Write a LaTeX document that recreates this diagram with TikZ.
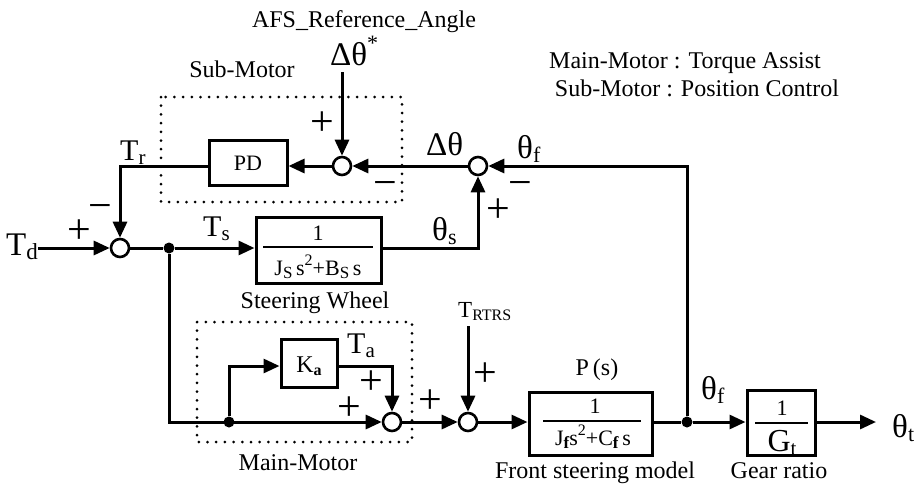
\documentclass[tikz,border=0pt]{standalone}
\usepackage{fontspec}
\setmainfont{Liberation Serif}
\usetikzlibrary{arrows.meta,calc}
\newcommand\fsz[1]{\fontsize{#1}{#1}\selectfont}
\newcommand\sbs[2]{\raisebox{-0.15em}{\fontsize{#1}{#1}\selectfont #2}}
\newcommand\sps[2]{\raisebox{0.45em}{\fontsize{#1}{#1}\selectfont #2}}
\begin{document}
\begin{tikzpicture}[x=1pt,y=-1pt,
  sumj/.style={circle,draw,line width=2.6pt,minimum size=18pt,inner sep=0pt,fill=white},
  dotj/.style={circle,fill,minimum size=11pt,inner sep=0pt},
  blk/.style={draw,line width=3pt,rectangle,inner sep=0pt},
  wire/.style={line width=3pt},
  sig/.style={line width=3pt,-{Triangle[length=16pt,width=14pt]}},
  dotbox/.style={line width=3pt,line cap=round,dash pattern=on 0pt off 8.7pt},
  fracl/.style={line width=2.6pt},
  txt/.style={inner sep=0pt,anchor=base,font=\fsz{24}},
  sym/.style={inner sep=0pt,anchor=base west,font=\fsz{33}},
  tsym/.style={inner sep=0pt,anchor=base west,font=\fsz{30}},
  sgn/.style={inner sep=0pt,anchor=base,font=\fsz{42}},
  blt/.style={inner sep=0pt,anchor=base,font=\fsz{22}}]
\useasboundingbox (0,0) rectangle (919,485);

% dotted boxes
\draw[dotbox] (161,97) rectangle (402,202);
\draw[dotbox] (197,322) rectangle (412,442);

% junctions and dots
\node[sumj] (sM) at (120,248) {};
\node[sumj] (sS) at (342,166) {};
\node[sumj] (sF) at (478,166) {};
\node[sumj] (sA) at (392,422) {};
\node[sumj] (sT) at (468,422) {};
\node[dotj] (d1) at (169,248) {};
\node[dotj] (d2) at (229,422) {};
\node[dotj] (d3) at (687,422) {};

% blocks
\node[blk,minimum width=78pt,minimum height=45pt] (PD) at (248,163) {};
\node[blt] (PDt) at (248,170) {PD};
\node[blk,minimum width=125pt,minimum height=66pt] (SW) at (318.5,250.5) {};
\node[blt] (SWn) at (318,240) {1};
\node[blt] (SWd) at (318,275) {J\sbs{17}{S}\,s\sps{16}{2}+B\sbs{17}{S}\,s};
\draw[fracl] (263,247) -- (373,247);
\node[blk,minimum width=56pt,minimum height=48pt] (Ka) at (309,363) {};
\node[inner sep=0pt,anchor=base,font=\fsz{24}] (Kat) at (309,372) {K\sbs{16}{\bfseries a}};
\node[blk,minimum width=123pt,minimum height=63pt] (P) at (590.5,423.5) {};
\node[blt] (Pn) at (595,413) {1};
\node[blt] (Pd) at (593,445) {J\sbs{17}{\bfseries f}s\sps{16}{2}+C\sbs{17}{\bfseries f}\,s};
\draw[fracl] (543,421) -- (641,421);
\node[blk,minimum width=68pt,minimum height=65pt] (G) at (781,422.5) {};
\node[blt] (Gn) at (782,415) {1};
\node[inner sep=0pt,anchor=base,font=\fsz{32}] (Gd) at (782,451) {G\sbs{21}{t}};
\draw[fracl] (755,423) -- (808,423);

% free ends
\node[inner sep=0pt,font=\fsz{33},anchor=base west] (Td) at (6,255) {T\sbs{23}{d}};
\coordinate (cR) at (342,72);
\coordinate (cT) at (468,326);
\coordinate (cOut) at (876,422);

% connectors
\draw[sig] (Td.east |- sM) -- (sM);
\draw[wire] (sM) -- (d1);
\draw[sig] (d1) -- (d1 -| SW.west);
\draw[sig] (SW.east |- d1) -| (sF);
\draw[sig] (d3) |- (sF);
\draw[sig] (sF) -- (sS);
\draw[sig] (cR) -- (sS);
\draw[sig] (sS) -- (sS -| PD.east);
\draw[sig] (PD.west |- sS) -| (sM);
\draw[sig] (d1) |- (sA);
\draw[sig] (d2) |- (Ka.west |- 0,366);
\draw[sig] (Ka.east |- 0,366) -| (sA);
\draw[sig] (sA) -- (sT);
\draw[sig] (cT) -- (sT);
\draw[sig] (sT) -- (sT -| P.west);
\draw[wire] (P.east |- d3) -- (d3);
\draw[sig] (d3) -- (d3 -| G.west);
\draw[sig] (G.east |- d3) -- (cOut);

% labels
\node[txt] (afs) at (364,27) {AFS\_Reference\_Angle};
\node[sym] (dts) at (330,65) {Δθ\sps{22}{*}};
\node[txt] (subm) at (242,77) {Sub-Motor};
\node[txt] (leg1) at (685,68) {Main-Motor : Torque Assist};
\node[txt] (leg2) at (697,96) {Sub-Motor : Position Control};
\node[sgn] (p1) at (322,135) {+};
\node[sgn] (m1) at (385,196) {−};
\node[tsym] (Tr) at (120,160) {T\sbs{21}{r}};
\node[sgn] (m2) at (100,219) {−};
\node[sgn] (p2) at (79,243) {+};
\node[tsym] (Ts) at (203,236) {T\sbs{21}{s}};
\node[sym] (dt) at (426,155) {Δθ};
\node[sym] (thf1) at (517,158) {θ\sbs{22}{f}};
\node[sgn] (m3) at (520,196) {−};
\node[sgn] (p3) at (498,222) {+};
\node[sym] (ths) at (432,240) {θ\sbs{22}{s}};
\node[txt] (swl) at (315,308) {Steering Wheel};
\node[tsym] (Ta) at (347,353) {T\sbs{21}{a}};
\node[sgn] (p4) at (371,394) {+};
\node[sgn] (p5) at (349,420) {+};
\node[sgn] (p6) at (430,413) {+};
\node[txt] (mml) at (298,470) {Main-Motor};
\node[inner sep=0pt,anchor=base west,font=\fsz{23}] (TR) at (458,317) {T\sbs{16}{RTRS}};
\node[sgn] (p7) at (485,386) {+};
\node[txt] (Ps) at (597,375) {P\,(s)};
\node[txt] (fsm) at (595,478) {Front steering model};
\node[sym] (thf2) at (701,399) {θ\sbs{22}{f}};
\node[txt] (grl) at (779,478) {Gear ratio};
\node[sym] (tht) at (892,437) {θ\sbs{22}{t}};
\end{tikzpicture}
\end{document}
